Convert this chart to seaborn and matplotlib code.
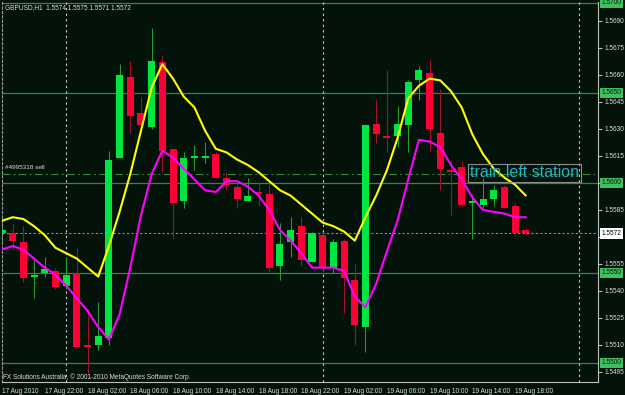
import matplotlib
matplotlib.use("Agg")
import matplotlib.pyplot as plt
import seaborn as sns
import pandas as pd

# ---------------- data (GBPUSD H1, 17 Aug 18:00 -> 19 Aug 19:00) ----------------
opens = [1.5572, 1.5572, 1.5567, 1.5548, 1.5550, 1.5551, 1.5543, 1.5550, 1.5510, 1.5510,
         1.5514, 1.5614, 1.5659, 1.5639, 1.5631, 1.5667, 1.5619, 1.5590, 1.5614, 1.5614,
         1.5616, 1.5603, 1.5598, 1.5590, 1.5595, 1.5594, 1.5554, 1.5567, 1.5576, 1.5556,
         1.5571, 1.5553, 1.5568, 1.5546, 1.5520, 1.5633, 1.5626, 1.5626, 1.5632, 1.5657,
         1.5661, 1.5628, 1.5607, 1.5609, 1.5589, 1.5588, 1.5591, 1.5598, 1.5587, 1.5574]
highs = [1.5581, 1.5577, 1.5576, 1.5557, 1.5559, 1.5553, 1.5559, 1.5564, 1.5530, 1.5534,
         1.5618, 1.5666, 1.5668, 1.5648, 1.5686, 1.5671, 1.5619, 1.5617, 1.5621, 1.5623,
         1.5617, 1.5606, 1.5600, 1.5603, 1.5600, 1.5600, 1.5578, 1.5581, 1.5581, 1.5573,
         1.5572, 1.5569, 1.5569, 1.5555, 1.5632, 1.5646, 1.5663, 1.5643, 1.5657, 1.5665,
         1.5669, 1.5652, 1.5613, 1.5612, 1.5594, 1.5603, 1.5599, 1.5599, 1.5589, 1.5575]
lows = [1.5567, 1.5563, 1.5545, 1.5536, 1.5548, 1.5541, 1.5541, 1.5509, 1.5494, 1.5507,
        1.5510, 1.5614, 1.5628, 1.5628, 1.5630, 1.5606, 1.5569, 1.5586, 1.5607, 1.5611,
        1.5603, 1.5596, 1.5586, 1.5590, 1.5587, 1.5551, 1.5546, 1.5559, 1.5554, 1.5556,
        1.5551, 1.5550, 1.5528, 1.5510, 1.5506, 1.5622, 1.5617, 1.5620, 1.5617, 1.5646,
        1.5618, 1.5596, 1.5582, 1.5587, 1.5569, 1.5586, 1.5587, 1.5586, 1.5571, 1.5571]
closes = [1.5574, 1.5568, 1.5547, 1.5549, 1.5552, 1.5542, 1.5549, 1.5509, 1.5509, 1.5515,
          1.5613, 1.5660, 1.5637, 1.5632, 1.5668, 1.5618, 1.5589, 1.5614, 1.5615, 1.5615,
          1.5603, 1.5599, 1.5591, 1.5593, 1.5594, 1.5553, 1.5566, 1.5574, 1.5557, 1.5572,
          1.5553, 1.5567, 1.5547, 1.5521, 1.5632, 1.5627, 1.5625, 1.5633, 1.5656, 1.5663,
          1.5630, 1.5608, 1.5606, 1.5588, 1.5590, 1.5591, 1.5596, 1.5586, 1.5572, 1.5572]
ma_yellow = [1.5579, 1.5581, 1.5580, 1.5576, 1.5571, 1.5564, 1.5561, 1.5558, 1.5553, 1.5548,
             1.5565, 1.5584, 1.5605, 1.5629, 1.5653, 1.5666, 1.5658, 1.5648, 1.5642, 1.5629,
             1.5619, 1.5617, 1.5613, 1.5610, 1.5606, 1.5601, 1.5596, 1.5593, 1.5588, 1.5583,
             1.5578, 1.5576, 1.5573, 1.5568, 1.5581, 1.5593, 1.5607, 1.5625, 1.5647, 1.5654,
             1.5658, 1.5657, 1.5651, 1.5642, 1.5627, 1.5616, 1.5608, 1.5603, 1.5599, 1.5593]
ma_magenta = [1.5563, 1.5565, 1.5563, 1.5558, 1.5553, 1.5549, 1.5543, 1.5536, 1.5529, 1.5520,
              1.5513, 1.5527, 1.5553, 1.5582, 1.5605, 1.5618, 1.5614, 1.5608, 1.5602, 1.5596,
              1.5595, 1.5601, 1.5601, 1.5598, 1.5593, 1.5585, 1.5574, 1.5568, 1.5561, 1.5553,
              1.5553, 1.5553, 1.5551, 1.5537, 1.5531, 1.5544, 1.5562, 1.5579, 1.5602, 1.5624,
              1.5623, 1.5620, 1.5610, 1.5602, 1.5592, 1.5585, 1.5584, 1.5583, 1.5581, 1.5581]

time_labels = ["17 Aug 2010", "17 Aug 22:00", "18 Aug 02:00", "18 Aug 06:00", "18 Aug 10:00",
               "18 Aug 14:00", "18 Aug 18:00", "18 Aug 22:00", "19 Aug 02:00", "19 Aug 06:00",
               "19 Aug 10:00", "19 Aug 14:00", "19 Aug 18:00"]
label_bars = [0, 4, 8, 12, 16, 20, 24, 28, 32, 36, 40, 44, 48]
day_separator_bars = [6, 30, 54]
price_ticks = [1.5495, 1.5510, 1.5525, 1.5540, 1.5555, 1.5570, 1.5585, 1.5600,
               1.5615, 1.5630, 1.5645, 1.5660, 1.5675, 1.5690]
level_prices = [1.5500, 1.5550, 1.5600, 1.5650, 1.5700]
bid_price = 1.5572
order_price = 1.5605
order_label = "#4995318 sell"
title_text = "GBPUSD,H1  1.5574 1.5575 1.5571 1.5572"
note_text = "train left station"
copyright_text = "FX Solutions Australia, \u00a9 2001-2010 MetaQuotes Software Corp."

# ---------------- style ----------------
BG = "#04130a"
sns.set_style("dark")
plt.rcParams["font.family"] = ["Liberation Sans", "DejaVu Sans"]
TXT = "#dcdcdc"
AXC = "#bdbdbd"

fig = plt.figure(figsize=(6.25, 3.95), dpi=100, facecolor=BG)
ax = fig.add_axes([2 / 625, 13 / 395, 596 / 625, 380 / 395])
ax.set_facecolor(BG)

PIPPX = 18000.0  # pixels per unit price (approx.)
ax.set_xlim(0, 596 / 10.69)
ax.set_ylim(1.5650 - 289 / PIPPX, 1.5650 + 91 / PIPPX)

# horizontal level lines
for p in level_prices:
    ax.axhline(p, color="#2f8a3a", lw=0.9, zorder=1)
ax.axhline(order_price, color="#2f8a3a", lw=0.8, ls=(0, (7, 3, 1.5, 3)), zorder=1)
ax.axhline(bid_price, color="#8a8a8a", lw=0.8, ls=(0, (2, 2)), zorder=1)
for b in day_separator_bars:
    ax.axvline(b, color="#cfcfcf", lw=0.8, ls=(0, (2, 3)), zorder=1)

# candles
df = pd.DataFrame({"bar": range(len(opens)), "open": opens, "high": highs,
                   "low": lows, "close": closes,
                   "yellow": ma_yellow, "magenta": ma_magenta})
up = df["close"] >= df["open"]
bull_body, bear_body = "#00e640", "#ff0036"
bull_wick, bear_wick = "#1fa02c", "#a3102c"
ax.vlines(df["bar"], df["low"], df["high"],
          colors=[bull_wick if u else bear_wick for u in up], lw=0.75, zorder=2)
bottoms = df[["open", "close"]].min(axis=1)
heights = (df["close"] - df["open"]).abs().clip(lower=0.00007)
ax.bar(df["bar"], heights, bottom=bottoms, width=0.66,
       color=[bull_body if u else bear_body for u in up], linewidth=0, zorder=3)

# moving averages
sns.lineplot(data=df, x="bar", y="yellow", ax=ax, color="#ffff00", lw=1.5, zorder=4)
sns.lineplot(data=df, x="bar", y="magenta", ax=ax, color="#ff00ff", lw=1.5, zorder=4)

# axes / ticks (labels hidden where a price box covers them)
covered = set(level_prices) | {1.5570}
ax.set_xlabel("")
ax.set_ylabel("")
ax.yaxis.tick_right()
ax.set_yticks(price_ticks)
ax.set_yticklabels(["" if round(p, 4) in covered else f"{p:.4f}" for p in price_ticks])
ax.set_xticks(label_bars)
ax.set_xticklabels(time_labels, ha="left")
ax.tick_params(axis="both", colors=AXC, labelcolor=TXT, labelsize=4.7, length=3,
               width=0.8, pad=1.5, direction="out")
ax.tick_params(axis="x", pad=1.0)
ax.tick_params(axis="y", left=False, right=True)
ax.grid(False)
ax.spines["top"].set_visible(False)
for s in ["right", "bottom"]:
    ax.spines[s].set_visible(True)
    ax.spines[s].set_color(AXC)
    ax.spines[s].set_linewidth(0.8)
ax.spines["left"].set_visible(True)
ax.spines["left"].set_color("#9a9a9a")
ax.spines["left"].set_linewidth(0.8)
ax.spines["left"].set_linestyle((0, (2, 2)))

# price label boxes on the right axis
ytr = ax.get_yaxis_transform()
for p in level_prices:
    ax.text(1.0 + 3.5 / 596, p, f"{p:.4f}", transform=ytr, ha="left", va="center",
            fontsize=4.7, color="#0a1a0a", clip_on=False, zorder=10,
            bbox=dict(boxstyle="square,pad=0.25", fc="#3fc05e", ec="none"))
ax.text(1.0 + 3.5 / 596, bid_price, f"{bid_price:.4f}", transform=ytr, ha="left",
        va="center", fontsize=4.7, color="#000000", clip_on=False, zorder=10,
        bbox=dict(boxstyle="square,pad=0.25", fc="#ffffff", ec="none"))

# texts
ax.text(0.3, order_price + 4 / PIPPX, order_label, fontsize=4.6, color=TXT,
        ha="left", va="bottom", zorder=6)
ax.text(43.75, 1.5650 - 80 / PIPPX, note_text, fontsize=11.5, color="#22b2c6",
        ha="left", va="center", zorder=6,
        bbox=dict(boxstyle="square,pad=0.12", fc="none", ec="#8c8c8c", lw=0.8))
fig.text(5 / 625, 1 - 8 / 395, title_text, fontsize=4.7, color=TXT, ha="left", va="center")
fig.text(3 / 625, 1 - 377 / 395, copyright_text, fontsize=4.7, color=TXT,
         ha="left", va="center")

fig.savefig("out.png", dpi=100, facecolor=BG)
